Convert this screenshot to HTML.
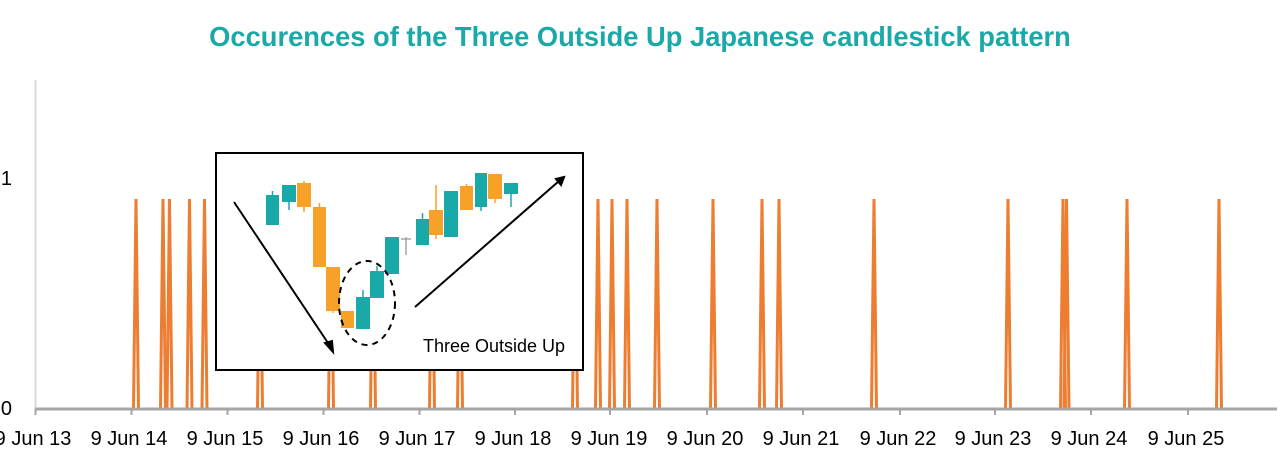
<!DOCTYPE html>
<html><head><meta charset="utf-8"><style>
html,body{margin:0;padding:0;background:#fff;}
svg{display:block;font-family:"Liberation Sans",sans-serif;}
</style></head><body>
<svg width="1280" height="473" viewBox="0 0 1280 473">
<text x="640" y="46" text-anchor="middle" font-size="27.3" font-weight="bold" fill="#1aa8a8">Occurences of the Three Outside Up Japanese candlestick pattern</text>
<line x1="35.5" y1="80" x2="35.5" y2="409" stroke="#d9d9d9" stroke-width="2"/>
<text x="12" y="185" text-anchor="end" font-size="20" fill="#000">1</text>
<text x="12" y="415" text-anchor="end" font-size="20" fill="#000">0</text>
<g stroke="#ed7d31" stroke-width="3" fill="none" stroke-linejoin="miter">
<polyline points="133.5,409 136,199 138.5,409"/>
<polyline points="160.5,409 163,199 165.5,409"/>
<polyline points="167,409 169.5,199 172,409"/>
<polyline points="187,409 189.5,199 192,409"/>
<polyline points="202,409 204.5,199 207,409"/>
<polyline points="257.5,409 260,199 262.5,409"/>
<polyline points="328.5,409 331,199 333.5,409"/>
<polyline points="370.5,409 373,199 375.5,409"/>
<polyline points="429.5,409 432,199 434.5,409"/>
<polyline points="457.5,409 460,199 462.5,409"/>
<polyline points="572.5,409 575,199 577.5,409"/>
<polyline points="595.5,409 598,199 600.5,409"/>
<polyline points="609.5,409 612,199 614.5,409"/>
<polyline points="624.5,409 627,199 629.5,409"/>
<polyline points="654.5,409 657,199 659.5,409"/>
<polyline points="710.5,409 713,199 715.5,409"/>
<polyline points="759.5,409 762,199 764.5,409"/>
<polyline points="776.5,409 779,199 781.5,409"/>
<polyline points="871.5,409 874,199 876.5,409"/>
<polyline points="1005.5,409 1008,199 1010.5,409"/>
<polyline points="1060.5,409 1063,199 1065.5,409"/>
<polyline points="1064,409 1066.5,199 1069,409"/>
<polyline points="1124.5,409 1127,199 1129.5,409"/>
<polyline points="1216.5,409 1219,199 1221.5,409"/>
</g>
<line x1="35" y1="409" x2="1277" y2="409" stroke="#a6a6a6" stroke-width="3"/>
<g stroke="#a6a6a6" stroke-width="2">
<line x1="35.5" y1="409" x2="35.5" y2="415"/><line x1="131.5" y1="409" x2="131.5" y2="415"/><line x1="227.5" y1="409" x2="227.5" y2="415"/><line x1="323.5" y1="409" x2="323.5" y2="415"/><line x1="419.5" y1="409" x2="419.5" y2="415"/><line x1="515" y1="409" x2="515" y2="415"/><line x1="610" y1="409" x2="610" y2="415"/><line x1="707" y1="409" x2="707" y2="415"/><line x1="803" y1="409" x2="803" y2="415"/><line x1="900" y1="409" x2="900" y2="415"/><line x1="995" y1="409" x2="995" y2="415"/><line x1="1091" y1="409" x2="1091" y2="415"/><line x1="1188" y1="409" x2="1188" y2="415"/>
</g>
<g font-size="20" fill="#000" text-anchor="middle">
<text x="33" y="445">9 Jun 13</text><text x="129" y="445">9 Jun 14</text><text x="225" y="445">9 Jun 15</text><text x="321" y="445">9 Jun 16</text><text x="417" y="445">9 Jun 17</text><text x="513" y="445">9 Jun 18</text><text x="609" y="445">9 Jun 19</text><text x="705" y="445">9 Jun 20</text><text x="801" y="445">9 Jun 21</text><text x="898" y="445">9 Jun 22</text><text x="993" y="445">9 Jun 23</text><text x="1089" y="445">9 Jun 24</text><text x="1186" y="445">9 Jun 25</text>
</g>
<rect x="216" y="153" width="367" height="217" fill="#fff" stroke="#000" stroke-width="2"/>
<g stroke-width="1.5">
<g stroke="#1aa9a9">
<line x1="272.5" y1="191" x2="272.5" y2="225"/><line x1="289" y1="185" x2="289" y2="210"/><line x1="363" y1="290" x2="363" y2="329"/><line x1="377" y1="266" x2="377" y2="298"/><line x1="422.5" y1="213" x2="422.5" y2="245"/><line x1="481" y1="173" x2="481" y2="211"/><line x1="511" y1="183" x2="511" y2="207"/>
</g>
<g stroke="#f7a128">
<line x1="304" y1="181" x2="304" y2="212"/><line x1="319.5" y1="203" x2="319.5" y2="267"/><line x1="333" y1="267" x2="333" y2="313"/><line x1="436" y1="185" x2="436" y2="239"/><line x1="466.5" y1="184" x2="466.5" y2="210"/><line x1="495" y1="174" x2="495" y2="203"/>
</g>
<g stroke="#a6a6a6"><line x1="406" y1="237" x2="406" y2="255"/><line x1="401" y1="239" x2="411" y2="239"/></g>
</g>
<g fill="#1aa9a9">
<rect x="266" y="195" width="13" height="30"/><rect x="282" y="185" width="14" height="17"/><rect x="356" y="297" width="14" height="32"/><rect x="370" y="271" width="14" height="27"/><rect x="385" y="237" width="14" height="37"/><rect x="416" y="219" width="13" height="26"/><rect x="444" y="191" width="14" height="46"/><rect x="475" y="173" width="12" height="34"/><rect x="504" y="183" width="14" height="11"/>
</g>
<g fill="#f7a128">
<rect x="297" y="183" width="14" height="24"/><rect x="313" y="207" width="13" height="60"/><rect x="326" y="267" width="14" height="44"/><rect x="341" y="311" width="13" height="17"/><rect x="429" y="210" width="14" height="25"/><rect x="460" y="186" width="13" height="24"/><rect x="488" y="174" width="14" height="25"/>
</g>
<ellipse cx="367" cy="303" rx="28" ry="42" fill="none" stroke="#000" stroke-width="2" stroke-dasharray="6,5"/>
<g stroke="#000" stroke-width="2" fill="#000">
<line x1="234" y1="202" x2="330" y2="346"/><polygon points="333,352 325,343 332,341"/>
<line x1="415" y1="307" x2="559" y2="181"/><polygon points="564,177 556,179 561,185"/>
</g>
<text x="423" y="352" font-size="18" fill="#000">Three Outside Up</text>
</svg>
</body></html>
